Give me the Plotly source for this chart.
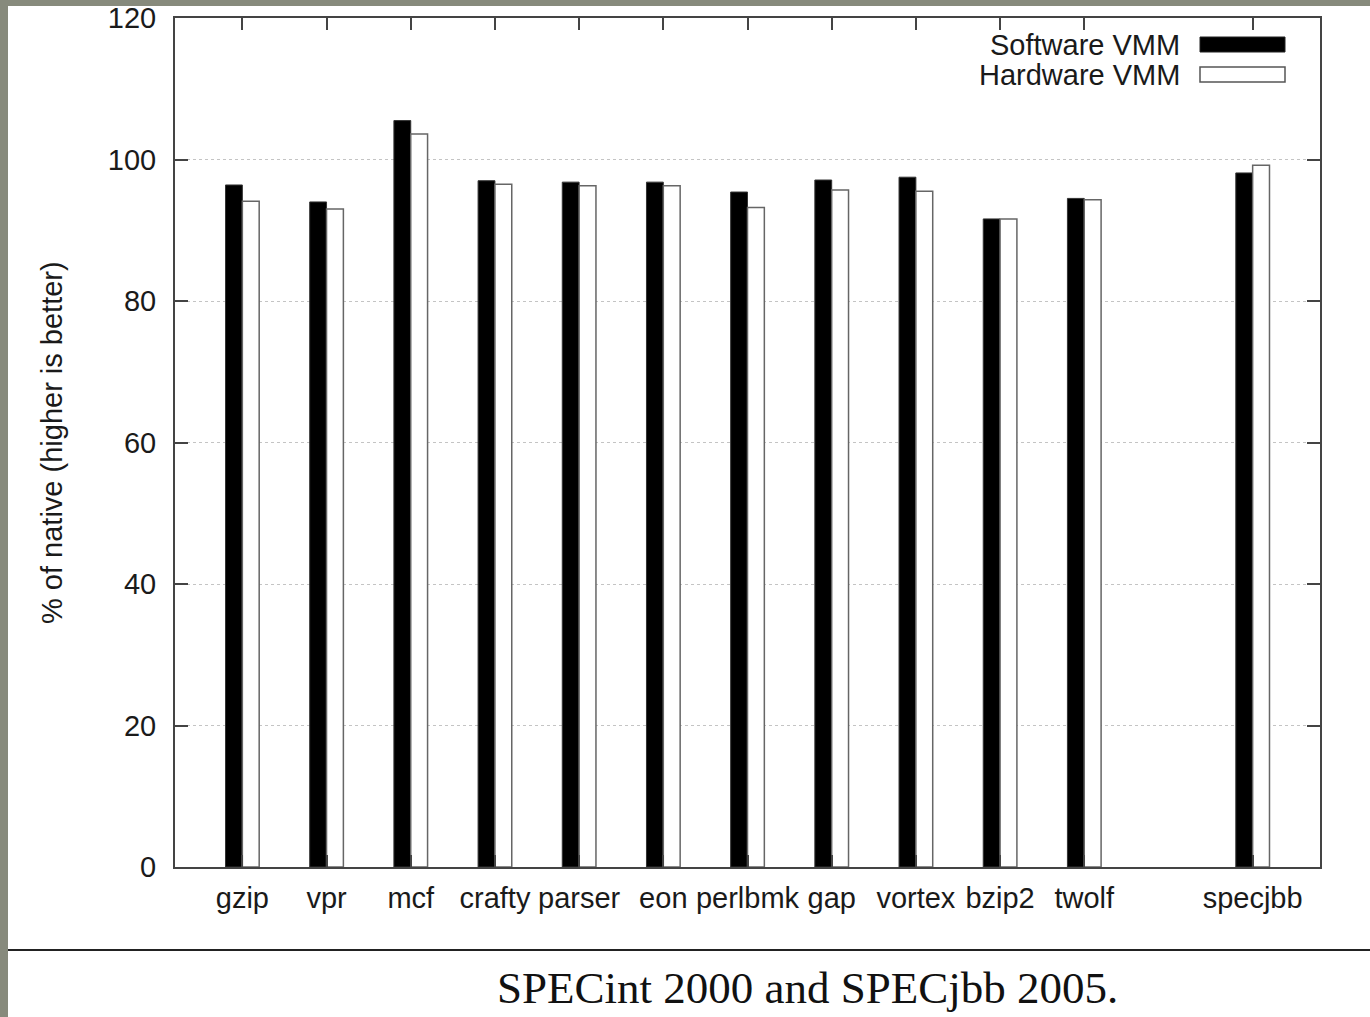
import plotly.graph_objects as go

# ---- data ----
specint_names = ["gzip", "vpr", "mcf", "crafty", "parser", "eon", "perlbmk",
                 "gap", "vortex", "bzip2", "twolf"]
specjbb_names = ["specjbb"]
software_vmm = [96.4, 94.0, 105.5, 97.0, 96.8, 96.8, 95.4, 97.1, 97.5, 91.6, 94.5, 98.1]
hardware_vmm = [94.1, 93.0, 103.6, 96.5, 96.3, 96.3, 93.2, 95.7, 95.5, 91.6, 94.3, 99.2]
y_ticks = [0, 20, 40, 60, 80, 100, 120]
series_names = ["Software VMM", "Hardware VMM"]
y_title = "% of native (higher is better)"
caption = "SPECint 2000 and SPECjbb 2005."

# x positions: SPECint benchmarks consecutive, a one-slot gap before SPECjbb
names = specint_names + specjbb_names
x_pos = list(range(1, len(specint_names) + 1)) + \
    [len(specint_names) + 2 + i for i in range(len(specjbb_names))]

W, H = 1370, 1017
L, R, T, B = 175, 50, 18, 150
PW, PH = W - L - R, H - T - B


def px(x):
    return (x - L) / PW


def py(y):
    return (H - B - y) / PH


SANS = "Liberation Sans, Arial, sans-serif"
SERIF = "Liberation Serif, Times New Roman, serif"
TXT = "#1a1a1a"

fig = go.Figure()
fig.add_trace(go.Bar(x=x_pos, y=software_vmm, name=series_names[0],
                     marker=dict(color="black", line=dict(color="#333", width=1))))
fig.add_trace(go.Bar(x=x_pos, y=hardware_vmm, name=series_names[1],
                     marker=dict(color="white", line=dict(color="#666", width=1.5))))

axis_common = dict(showline=True, linecolor="#444", linewidth=2, mirror="ticks",
                   ticks="inside", tickcolor="#444", tickwidth=2, zeroline=False,
                   tickfont=dict(family=SANS, size=29, color=TXT))

fig.update_xaxes(range=[0.2, 13.8], tickmode="array", tickvals=x_pos, ticktext=names,
                 ticklen=12, showgrid=False, ticklabelstandoff=4, **axis_common)
fig.update_yaxes(range=[0, 120], tickmode="array", tickvals=y_ticks,
                 ticklen=13, showgrid=True, gridcolor="#c4c4c4", griddash="dot",
                 gridwidth=1, ticklabelstandoff=11, **axis_common)

shapes = [
    # slide background strips
    dict(type="rect", xref="paper", yref="paper", x0=px(0), x1=px(8), y0=py(H), y1=py(0),
         fillcolor="#878a7c", line=dict(width=0), layer="above"),
    dict(type="rect", xref="paper", yref="paper", x0=px(0), x1=px(W), y0=py(6), y1=py(0),
         fillcolor="#878a7c", line=dict(width=0), layer="above"),
    # separator line
    dict(type="line", xref="paper", yref="paper", x0=px(8), x1=px(W), y0=py(950), y1=py(950),
         line=dict(color="#222", width=2)),
    # legend samples
    dict(type="rect", xref="paper", yref="paper", x0=px(1200), x1=px(1285), y0=py(52), y1=py(37),
         fillcolor="black", line=dict(color="#222", width=1)),
    dict(type="rect", xref="paper", yref="paper", x0=px(1200), x1=px(1285), y0=py(82), y1=py(67),
         fillcolor="white", line=dict(color="#555", width=1.5)),
]

annotations = [
    dict(text=series_names[0], xref="paper", yref="paper", x=px(1182), y=py(45),
         xanchor="right", yanchor="middle", showarrow=False,
         font=dict(family=SANS, size=29, color=TXT)),
    dict(text=series_names[1], xref="paper", yref="paper", x=px(1182), y=py(75),
         xanchor="right", yanchor="middle", showarrow=False,
         font=dict(family=SANS, size=29, color=TXT)),
    dict(text=y_title, xref="paper", yref="paper", x=px(52), y=py(443), textangle=-90,
         xanchor="center", yanchor="middle", showarrow=False,
         font=dict(family=SANS, size=29, color=TXT)),
    dict(text=caption, xref="paper", yref="paper", x=px(807), y=py(988),
         xanchor="center", yanchor="middle", showarrow=False,
         font=dict(family=SERIF, size=45, color="#111")),
]

fig.update_layout(
    width=W, height=H, margin=dict(l=L, r=R, t=T, b=B, autoexpand=False),
    paper_bgcolor="white", plot_bgcolor="white",
    barmode="group", bargap=0.6, bargroupgap=0.0,
    showlegend=False, shapes=shapes, annotations=annotations,
)

fig.write_html("out.html")
